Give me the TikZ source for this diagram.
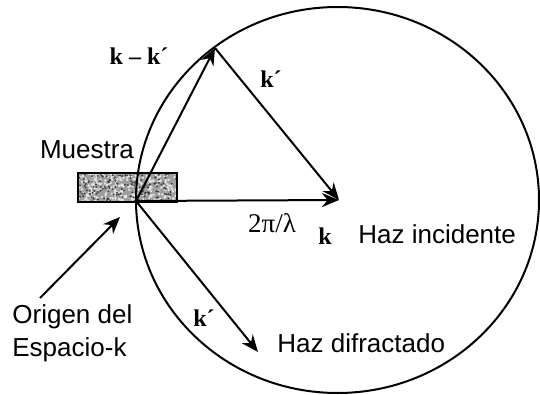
\documentclass[tikz,border=0pt]{standalone}
\usepackage{fontspec}
\newfontfamily\sansf{Liberation Sans}
\newfontfamily\seriff{Liberation Serif}
\usetikzlibrary{arrows.meta}
\begin{document}
\begin{tikzpicture}[x=0.5pt,y=-0.5pt,
  vec/.style={line width=1pt,-{Stealth[length=8.5pt,width=7pt,inset=2.8pt]}},
  lbl/.style={font=\sansf\fontsize{13}{15}\selectfont,inner sep=0pt},
  vlbl/.style={font=\seriff\bfseries\fontsize{12}{14}\selectfont,inner sep=0pt},
  mlbl/.style={font=\seriff\fontsize{13.5}{15}\selectfont,inner sep=0pt}]
\useasboundingbox (0,0) rectangle (540,395);
% sample box texture
\pgfmathsetseed{7}
\begin{scope}
  \clip (78,173) rectangle (177,202);
  \fill[black!38] (78,173) rectangle (177,202);
  \foreach \i in {1,...,300}{\fill[white!90!black] ({78+99*rnd},{173+29*rnd}) circle (1.3);}
  \foreach \i in {1,...,150}{\fill[black!75] ({78+99*rnd},{173+29*rnd}) circle (1.1);}
\end{scope}
\coordinate (O) at (136,201);
\coordinate (C) at (339,200);
\coordinate (P) at (215,48);
\coordinate (D) at (258,352);
\coordinate (S) at (40,298);
\coordinate (T) at (120,217);
\draw[line width=1pt] (337.5,200) ellipse [x radius=201.5, y radius=193];
\draw[line width=1.1pt] (78,173) rectangle (177,202);
\draw[vec] (O) -- (C);
\draw[vec] (O) -- (P);
\draw[vec] (P) -- (C);
\draw[vec] (O) -- (D);
\draw[vec] (S) -- (T);
\node[vlbl] (kk) at (139,56) {k – k´};
\node[vlbl] (k1) at (271,79) {k´};
\node[vlbl] (k2) at (204,318) {k´};
\node[vlbl] (k) at (325,236) {k};
\node[mlbl] (lam) at (272,223) {2π/λ};
\node[lbl] (mu) at (87,150) {Muestra};
\node[lbl,anchor=west] (hi) at (358,234) {Haz incidente};
\node[lbl,anchor=west] (hd) at (277,343) {Haz difractado};
\node[lbl,anchor=west] (og) at (12,317) {Origen del};
\node[lbl,anchor=west] (es) at (12,350) {Espacio-k};
\end{tikzpicture}
\end{document}
